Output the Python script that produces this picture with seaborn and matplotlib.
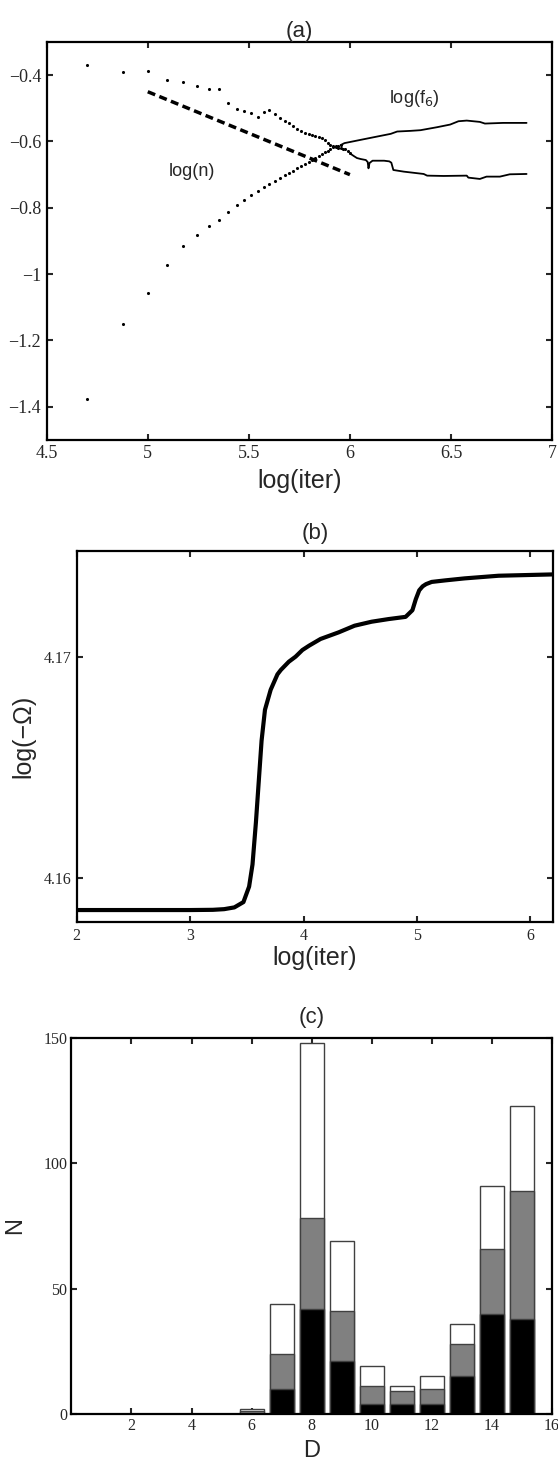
import numpy as np
import pandas as pd
import matplotlib
matplotlib.use('Agg')
import matplotlib.pyplot as plt
import seaborn as sns

# --- (a) log(n) and log(f6) against log(iter); samples every 25000 iterations ---
k_dots = np.arange(2, 41)
iter_dots = 25000 * k_dots
logn_dots = [-0.370, -0.390, -0.388, -0.416, -0.420, -0.432, -0.441, -0.442, -0.484, -0.501,
             -0.508, -0.513, -0.525, -0.512, -0.505, -0.518, -0.528, -0.538, -0.545, -0.552,
             -0.561, -0.568, -0.575, -0.578, -0.581, -0.584, -0.586, -0.590, -0.596, -0.604,
             -0.611, -0.615, -0.616, -0.619, -0.620, -0.622, -0.624, -0.630, -0.636]
logf6_dots = [-1.378, -1.151, -1.058, -0.974, -0.916, -0.881, -0.856, -0.838, -0.814, -0.793,
              -0.777, -0.762, -0.749, -0.738, -0.727, -0.718, -0.710, -0.702, -0.695, -0.688,
              -0.681, -0.675, -0.668, -0.662, -0.656, -0.650, -0.645, -0.639, -0.633, -0.628,
              -0.622, -0.618, -0.615, -0.613, -0.611]
n_f6_dots = len(logf6_dots)

logn_line_x = [6.0, 6.022, 6.035, 6.054, 6.079, 6.088, 6.092, 6.097, 6.112, 6.169, 6.195, 6.205,
               6.215, 6.267, 6.365, 6.382, 6.464, 6.578, 6.586, 6.643, 6.676, 6.742, 6.791, 6.874]
logn_line_y = [-0.636, -0.645, -0.650, -0.653, -0.656, -0.662, -0.681, -0.665, -0.658, -0.658, -0.660,
               -0.664, -0.686, -0.691, -0.698, -0.703, -0.704, -0.703, -0.709, -0.713, -0.706, -0.706,
               -0.699, -0.698]
logf6_line_x = [5.954, 5.973, 6.054, 6.136, 6.202, 6.234, 6.300, 6.349, 6.431, 6.496, 6.537, 6.578,
                6.643, 6.668, 6.758, 6.874]
logf6_line_y = [-0.611, -0.605, -0.595, -0.585, -0.577, -0.570, -0.568, -0.566, -0.557, -0.549,
                -0.539, -0.537, -0.541, -0.546, -0.544, -0.544]
fit_x = [5.0, 6.0]
fit_y = [-0.45, -0.70]

# --- (b) log(-Omega) against log(iter) ---
omega_x = [2.0, 3.0, 3.2, 3.3, 3.39, 3.47, 3.52, 3.55, 3.58, 3.63, 3.66, 3.71, 3.77, 3.8, 3.87,
           3.93, 3.99, 4.05, 4.15, 4.31, 4.45, 4.6, 4.75, 4.9, 4.96, 4.99, 5.02, 5.05, 5.08, 5.13,
           5.25, 5.42, 5.72, 6.2]
omega_y = [4.15854, 4.15854, 4.15855, 4.15858, 4.15866, 4.1589, 4.1596, 4.1606, 4.1625, 4.1662,
           4.1676, 4.1685, 4.1692, 4.1694, 4.16977, 4.1700, 4.1703, 4.1705, 4.1708, 4.1711,
           4.1714, 4.17158, 4.1717, 4.1718, 4.1721, 4.1726, 4.1730, 4.17318, 4.17328, 4.17338,
           4.17345, 4.17354, 4.17366, 4.17372]

# --- (c) histogram of D, three stacked groups ---
D = [6, 7, 8, 9, 10, 11, 12, 13, 14, 15]
n_black = [0, 10, 42, 21, 4, 4, 4, 15, 40, 38]
n_gray = [1, 14, 36, 20, 7, 5, 6, 13, 26, 51]
n_white = [1, 20, 70, 28, 8, 2, 5, 8, 25, 34]

sns.set_style('ticks')
plt.rcParams['font.family'] = ['Liberation Serif', 'DejaVu Serif']
plt.rcParams.update({'xtick.direction': 'in', 'ytick.direction': 'in',
                     'xtick.top': True, 'ytick.right': True,
                     'xtick.major.size': 4, 'ytick.major.size': 4,
                     'xtick.major.width': 1.5, 'ytick.major.width': 1.5,
                     'axes.linewidth': 1.6, 'axes.edgecolor': 'black'})
sans = ['Liberation Sans', 'DejaVu Sans']

fig = plt.figure(figsize=(5.58, 14.63), dpi=100)
ax_a = fig.add_axes([0.0837, 0.6993, 0.9056, 0.2720])
ax_b = fig.add_axes([0.1375, 0.3698, 0.8536, 0.2539])
ax_c = fig.add_axes([0.1280, 0.0335, 0.8613, 0.2570])

# (a)
x_dots = np.log10(iter_dots)
sns.scatterplot(x=x_dots, y=logn_dots, ax=ax_a, color='k', s=5, linewidth=0)
sns.scatterplot(x=x_dots[:n_f6_dots], y=logf6_dots, ax=ax_a, color='k', s=5, linewidth=0)
sns.lineplot(x=logn_line_x, y=logn_line_y, ax=ax_a, color='k', lw=1.3, sort=False, estimator=None)
sns.lineplot(x=logf6_line_x, y=logf6_line_y, ax=ax_a, color='k', lw=1.3, sort=False, estimator=None)
sns.lineplot(x=fit_x, y=fit_y, ax=ax_a, color='k', lw=2.5, linestyle=(0, (2.3, 1.3)),
             sort=False, estimator=None)
ax_a.text(6.32, -0.47, 'log(f$_6$)', family=sans, fontsize=13, ha='center', va='center')
ax_a.text(5.22, -0.69, 'log(n)', family=sans, fontsize=13, ha='center', va='center')
ax_a.set_xlim(4.5, 7)
ax_a.set_ylim(-1.5, -0.3)
ax_a.set_xticks([4.5, 5, 5.5, 6, 6.5, 7])
ax_a.set_xticklabels(['4.5', '5', '5.5', '6', '6.5', '7'])
ax_a.set_yticks([-1.4, -1.2, -1, -0.8, -0.6, -0.4])
ax_a.set_yticklabels(['\u22121.4', '\u22121.2', '\u22121', '\u22120.8', '\u22120.6', '\u22120.4'])
ax_a.tick_params(labelsize=13, pad=4)
ax_a.set_xlabel('log(iter)', family=sans, fontsize=18, labelpad=5)
ax_a.set_title('(a)', family=sans, fontsize=16, pad=3)

# (b)
sns.lineplot(x=omega_x, y=omega_y, ax=ax_b, color='k', lw=3, sort=False, estimator=None)
ax_b.set_xlim(2, 6.2)
ax_b.set_ylim(4.158, 4.1748)
ax_b.set_xticks([2, 3, 4, 5, 6])
ax_b.set_yticks([4.16, 4.17])
ax_b.set_yticklabels(['4.16', '4.17'])
ax_b.tick_params(labelsize=11.5, pad=4)
ax_b.set_xlabel('log(iter)', family=sans, fontsize=18, labelpad=2)
ax_b.set_ylabel('log(\u2212\u03a9)', family=sans, fontsize=18, labelpad=6)
ax_b.set_title('(b)', family=sans, fontsize=16, pad=8)

# (c) stacked bars: total first, then lower groups on top of it
df = pd.DataFrame({'D': D, 'black': n_black, 'gray': n_gray, 'white': n_white})
df['top_gray'] = df['black'] + df['gray']
df['total'] = df['top_gray'] + df['white']
for col, fc in [('total', 'white'), ('top_gray', '#808080'), ('black', 'black')]:
    sns.barplot(data=df, x='D', y=col, ax=ax_c, native_scale=True, width=0.8,
                color=fc, saturation=1, edgecolor='0.25', linewidth=1)
ax_c.set_xlim(0, 16)
ax_c.set_ylim(0, 150)
ax_c.set_xticks([2, 4, 6, 8, 10, 12, 14, 16])
ax_c.set_yticks([0, 50, 100, 150])
ax_c.tick_params(labelsize=11.5, pad=3)
ax_c.set_xlabel('D', family=sans, fontsize=17, labelpad=4)
ax_c.set_ylabel('N', family=sans, fontsize=17, labelpad=12)
ax_c.set_title('(c)', family=sans, fontsize=16, pad=11)

for ax in (ax_a, ax_b, ax_c):
    for s in ax.spines.values():
        s.set_visible(True)
        s.set_linewidth(1.6)

fig.savefig('out.png', dpi=100)
